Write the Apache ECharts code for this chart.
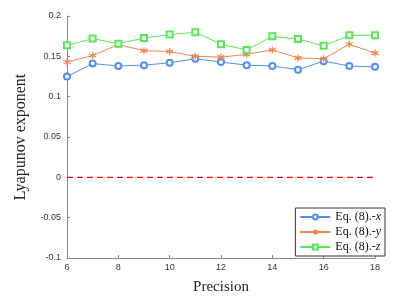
<!DOCTYPE html>
<html><head><meta charset="utf-8">
<script src="https://cdn.jsdelivr.net/npm/echarts@6/dist/echarts.min.js"></script>
<style>html,body{margin:0;padding:0;background:#fff}#c{width:408px;height:300px}</style>
</head><body><div id="c"></div>
<script>
const precision = [6,7,8,9,10,11,12,13,14,15,16,17,18];
const eqX = [0.125,0.141,0.138,0.139,0.142,0.147,0.143,0.139,0.138,0.1335,0.144,0.138,0.137];
const eqY = [0.143,0.151,0.1645,0.157,0.156,0.150,0.149,0.1525,0.158,0.148,0.147,0.165,0.154];
const eqZ = [0.1636,0.172,0.1657,0.1727,0.177,0.1798,0.165,0.158,0.1748,0.1715,0.163,0.176,0.176];
const zeroLine = [0, 0];
const xTicks = [6, 18, 2];
const yTicks = [-0.1, 0.2, 0.05];
const names = ['Eq. (8).-x','Eq. (8).-y','Eq. (8).-z'];

const pairs = a => precision.map((p,i)=>[p,a[i]]);
const chart = echarts.init(document.getElementById('c'));
const serif = 'Liberation Serif, Times New Roman, serif';
const axisColor = '#888';
const star = 'path://M0,-5L0,5M-4.33,-2.5L4.33,2.5M-4.33,2.5L4.33,-2.5';
chart.setOption({
  animation:false,
  grid:{left:67,right:33,top:16,bottom:42},
  legend:{
    data:names, right:23, bottom:44, orient:'vertical',
    backgroundColor:'#fff', borderColor:'#333', borderWidth:1, borderRadius:0,
    padding:[3,4,3,4], itemGap:3, itemWidth:30, itemHeight:6,
    formatter: n => n.slice(0,-1) + '{i|' + n.slice(-1) + '}',
    textStyle:{fontFamily:serif,fontSize:12,color:'#111',
      rich:{i:{fontFamily:serif,fontStyle:'italic',fontSize:12,color:'#111'}}}
  },
  xAxis:{type:'value',min:xTicks[0],max:xTicks[1],interval:xTicks[2],
    name:'Precision',nameLocation:'middle',nameGap:22,
    nameTextStyle:{fontFamily:serif,fontSize:15,color:'#222'},
    axisLine:{onZero:false,lineStyle:{color:axisColor}},
    axisTick:{inside:true,length:3,lineStyle:{color:axisColor}},
    axisLabel:{fontFamily:'Liberation Sans, Arial',fontSize:9,color:'#333',margin:5},
    splitLine:{show:false}},
  yAxis:{type:'value',min:yTicks[0],max:yTicks[1],interval:yTicks[2],
    name:'Lyapunov exponent',nameLocation:'middle',nameGap:38,
    nameTextStyle:{fontFamily:serif,fontSize:16,color:'#222'},
    axisLine:{show:true,onZero:false,lineStyle:{color:axisColor}},
    axisTick:{show:true,inside:true,length:3,lineStyle:{color:axisColor}},
    axisLabel:{fontFamily:'Liberation Sans, Arial',fontSize:9,color:'#333',margin:6,
      formatter:v=>String(Math.round(v*100)/100)},
    splitLine:{show:false}},
  series:[
    {name:names[0],type:'line',data:pairs(eqX),symbol:'emptyCircle',symbolSize:6,
      color:'#4f8ff5',lineStyle:{width:1},itemStyle:{borderWidth:1}},
    {name:names[1],type:'line',data:pairs(eqY),symbol:star,symbolSize:7,
      color:'#f5844f',lineStyle:{width:1},itemStyle:{borderColor:'#f5844f',borderWidth:1.3}},
    {name:names[2],type:'line',data:pairs(eqZ),symbol:'emptyRect',symbolSize:6,
      color:'#55e855',lineStyle:{width:1},itemStyle:{borderWidth:1}},
    {type:'line',data:[[xTicks[0],zeroLine[0]],[xTicks[1],zeroLine[1]]],symbol:'none',
      color:'#ff0000',lineStyle:{width:1.3,type:[6,4],color:'#ff0000'},silent:true}
  ]
});
</script></body></html>
